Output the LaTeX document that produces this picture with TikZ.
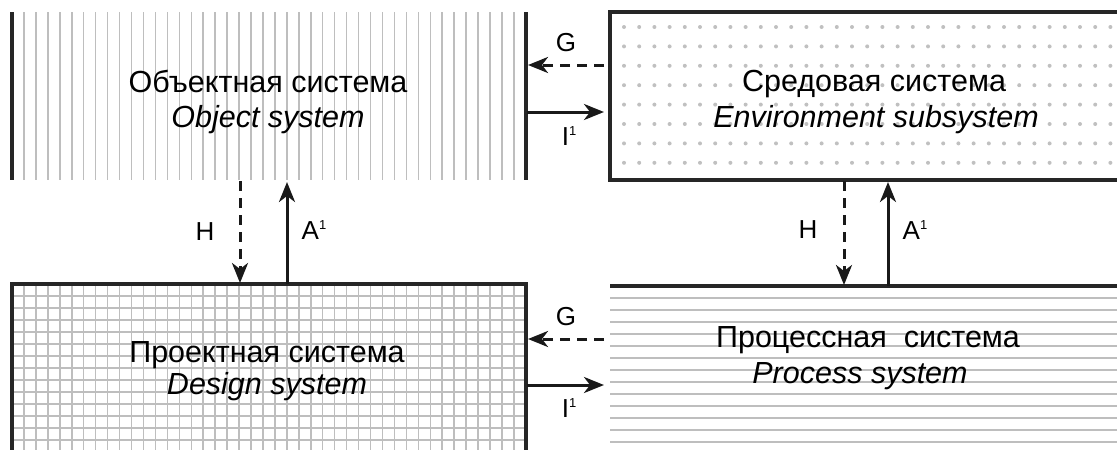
\documentclass[tikz,border=0pt]{standalone}
\usepackage{fontspec}
\setmainfont{Liberation Sans}
\usetikzlibrary{arrows.meta}
\definecolor{hatch}{HTML}{BEBEBE}
\definecolor{dotc}{HTML}{C0C0C0}
\newcommand{\supone}{\raisebox{10pt}{\fontsize{13}{13}\selectfont 1}}
\tikzset{
  boxline/.style={line width=3.1pt, black!85},
  hatchline/.style={line width=1.5pt, hatch},
  conn/.style={line width=3.0pt, black!90, -{Stealth[length=20pt,width=16pt,inset=6pt]}},
  dconn/.style={conn, dash pattern=on 10pt off 7pt},
  bigtext/.style={font=\fontsize{30.5}{36}\selectfont, anchor=base, inner sep=0pt},
  lbl/.style={font=\fontsize{26}{30}\selectfont, inner sep=0pt}
}
\begin{document}
\begin{tikzpicture}[x=1pt,y=-1pt]
\useasboundingbox (0,0) rectangle (1117,450);
\clip (0,0) rectangle (1117,450);
% ---------- Object system (vertical hatching)
\foreach \k in {1,...,42} \draw[hatchline] ({12+\k*11.95},12) -- ({12+\k*11.95},180);
\draw[boxline] (12,12) -- (12,180);
\draw[boxline] (526,12) -- (526,180);
% ---------- Environment subsystem (dots)
\foreach \j in {0,...,7} \foreach \k in {0,...,32}
  \fill[dotc] ({624+\k*15.2},{27+\j*19.4}) circle (2pt);
\draw[boxline] (1130,12) -- (610,12) -- (610,180) -- (1130,180);
% ---------- Design system (grid)
\foreach \k in {1,...,42} \draw[hatchline] ({12+\k*11.95},284) -- ({12+\k*11.95},460);
\foreach \k in {0,...,13} \draw[hatchline] (12,{296+\k*12}) -- (526,{296+\k*12});
\draw[boxline] (12,460) -- (12,284) -- (526,284) -- (526,460);
% ---------- Process system (horizontal hatching)
\foreach \k in {0,...,12} \draw[hatchline] (610,{298+\k*12}) -- (1130,{298+\k*12});
\draw[boxline] (610,286) -- (1130,286);
% ---------- texts
\node[bigtext] (objru) at (268,92) {Объектная система};
\node[bigtext] (objen) at (268,127) {\itshape Object system};
\node[bigtext] (envru) at (874,91) {Средовая система};
\node[bigtext] (enven) at (876,127) {\itshape Environment subsystem};
\node[bigtext] (desru) at (267,362) {Проектная система};
\node[bigtext] (desen) at (267,394) {\itshape Design system};
\node[bigtext] (procru) at (868,347) {Процессная~ система};
\node[bigtext] (procen) at (860,383) {\itshape Process system};
% ---------- connector end points
\coordinate (envG) at (604,65);  \coordinate (objG) at (528,65);
\coordinate (objI) at (527,112); \coordinate (envI) at (604,112);
\coordinate (procG) at (604,339); \coordinate (desG) at (528,339);
\coordinate (desI) at (527,385); \coordinate (procI) at (604,385);
\coordinate (objH) at (240,181); \coordinate (desH) at (240,283);
\coordinate (desA) at (287,284); \coordinate (objA) at (287,182);
\coordinate (envH) at (844,181); \coordinate (procH) at (844,285);
\coordinate (procA) at (888,286); \coordinate (envA) at (888,182);
% ---------- connectors
\draw[dconn] (envG) -- (objG);
\draw[conn] (objI) -- (envI);
\draw[dconn] (procG) -- (desG);
\draw[conn] (desI) -- (procI);
\draw[dconn] (objH) -- (desH);
\draw[conn] (desA) -- (objA);
\draw[dconn] (envH) -- (procH);
\draw[conn] (procA) -- (envA);
% ---------- labels
\node[lbl] (lg1) at (566,43) {G};
\node[lbl] (li1) at (569,136) {I\supone};
\node[lbl] (lg2) at (566,317) {G};
\node[lbl] (li2) at (569,408) {I\supone};
\node[lbl] (lh1) at (205,232) {H};
\node[lbl] (la1) at (314,230) {A\supone};
\node[lbl] (lh2) at (808,230) {H};
\node[lbl] (la2) at (915,230) {A\supone};
\end{tikzpicture}
\end{document}
